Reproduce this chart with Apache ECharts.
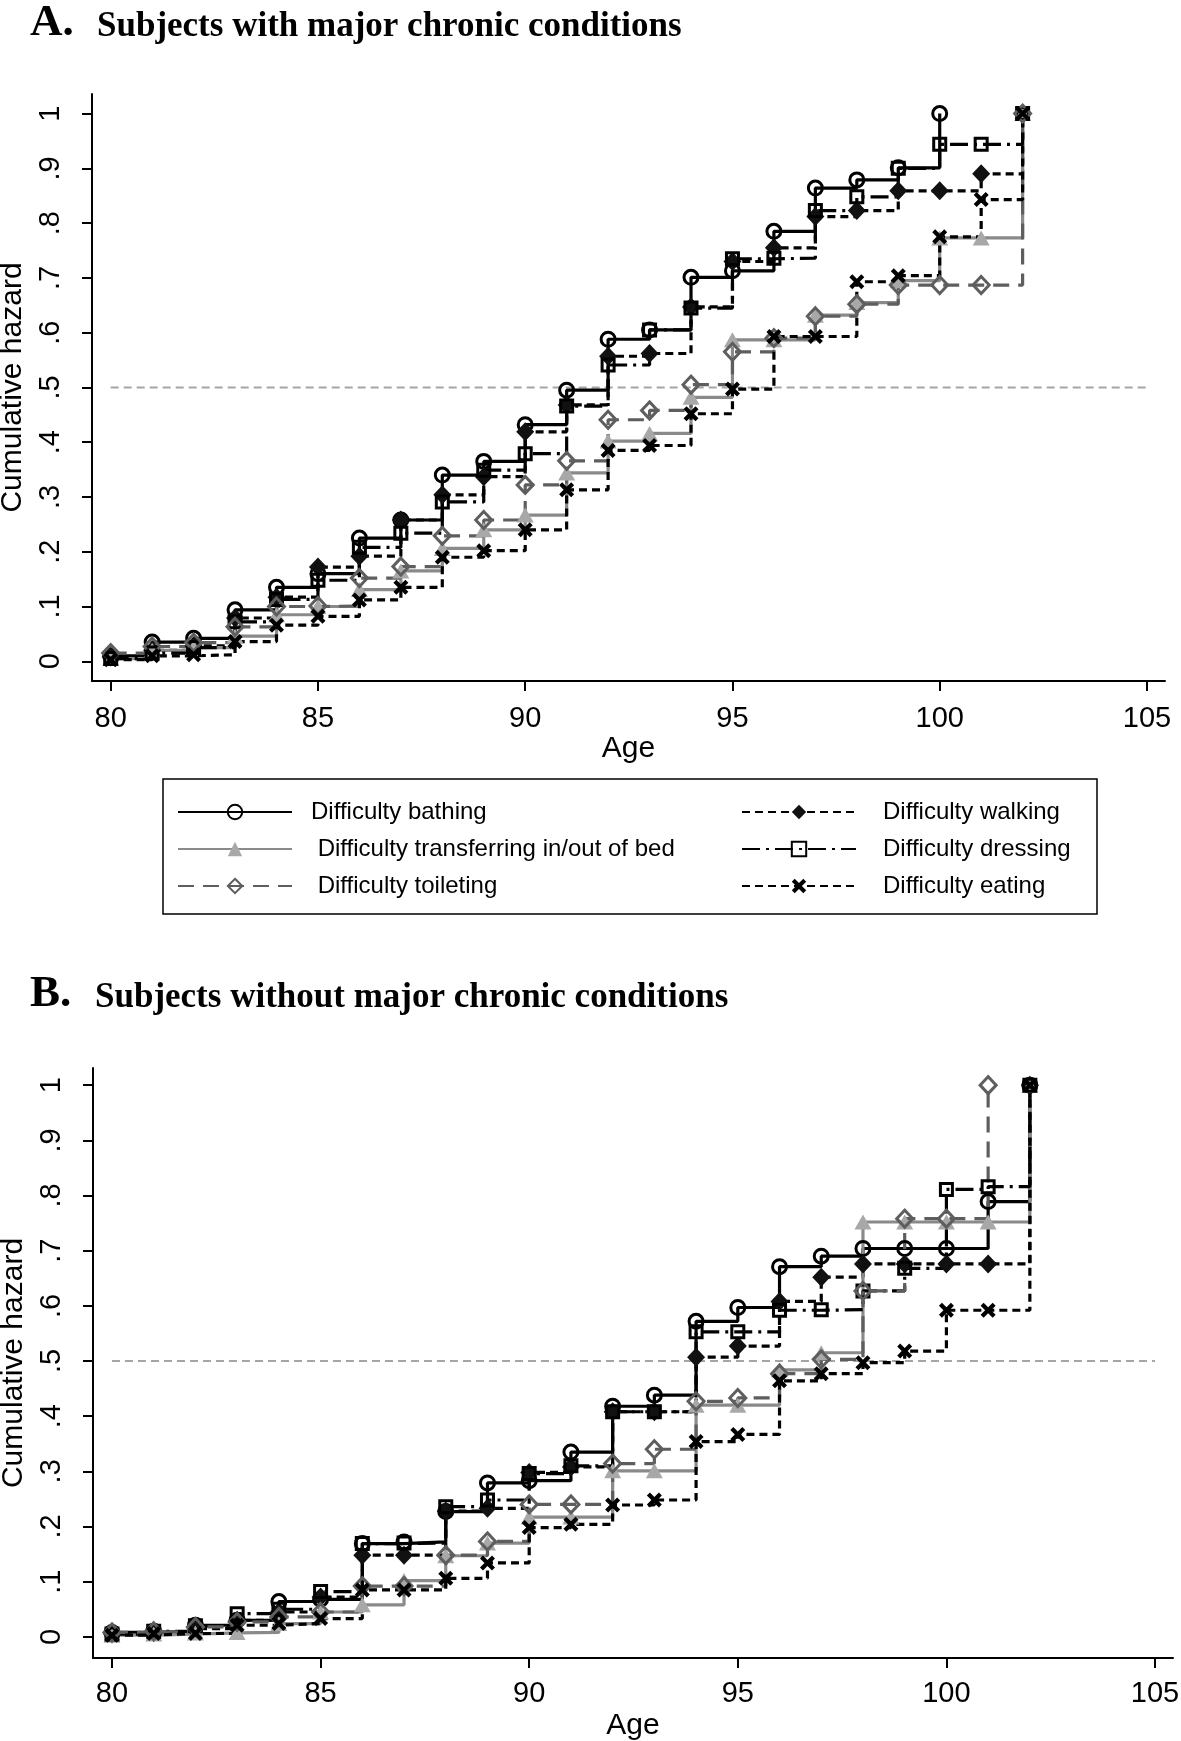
<!DOCTYPE html>
<html>
<head>
<meta charset="utf-8">
<script src="https://cdn.jsdelivr.net/npm/echarts@6/dist/echarts.min.js"></script>
<style>
html,body{margin:0;padding:0;background:#fff;}
#chart{width:1181px;height:1741px;}
</style>
</head>
<body>
<div id="chart"></div>
<script>
// ---------- DATA ----------
const ages = [80,81,82,83,84,85,86,87,88,89,90,91,92,93,94,95,96,97,98,99,100,101,102];
const xTicks = [80,85,90,95,100,105];
const yTicks = [0,0.1,0.2,0.3,0.4,0.5,0.6,0.7,0.8,0.9,1];
const yTickLabels = ['0','.1','.2','.3','.4','.5','.6','.7','.8','.9','1'];
const refAges = [80,105];
const refValue = 0.5;

const titleA = 'Subjects with major chronic conditions';
const titleB = 'Subjects without major chronic conditions';
const names = {
  bathing: 'Difficulty bathing',
  transfer: 'Difficulty transferring in/out of bed',
  toileting: 'Difficulty toileting',
  walking: 'Difficulty walking',
  dressing: 'Difficulty dressing',
  eating: 'Difficulty eating'
};

// Panel A: subjects with major chronic conditions (ages 80..102; bathing 80..100)
const bathingA   = [0.010,0.035,0.042,0.094,0.135,0.160,0.225,0.258,0.340,0.365,0.432,0.495,0.588,0.605,0.701,0.713,0.785,0.864,0.879,0.901,1.000];
const walkingA   = [0.008,0.020,0.028,0.079,0.117,0.172,0.192,0.258,0.304,0.337,0.419,0.468,0.557,0.562,0.647,0.730,0.755,0.812,0.823,0.859,0.859,0.890,1.000];
const transferA  = [0.005,0.020,0.025,0.046,0.085,0.100,0.131,0.165,0.206,0.240,0.267,0.344,0.402,0.416,0.482,0.587,0.587,0.632,0.655,0.695,0.773,0.773,1.000];
const dressingA  = [0.005,0.015,0.025,0.072,0.113,0.148,0.208,0.234,0.291,0.349,0.379,0.466,0.541,0.605,0.645,0.735,0.736,0.823,0.848,0.900,0.944,0.944,1.000];
const toiletingA = [0.015,0.027,0.034,0.063,0.100,0.101,0.152,0.173,0.229,0.258,0.322,0.366,0.441,0.458,0.505,0.565,0.590,0.630,0.652,0.687,0.687,0.687,1.000];
const eatingA    = [0.003,0.010,0.012,0.036,0.066,0.082,0.112,0.135,0.190,0.202,0.240,0.313,0.385,0.394,0.452,0.497,0.593,0.593,0.693,0.704,0.775,0.843,1.000];

// Panel B: subjects without major chronic conditions (ages 80..102; toileting 80..101)
const bathingB   = [0.008,0.010,0.021,0.030,0.064,0.068,0.169,0.172,0.227,0.279,0.283,0.335,0.418,0.438,0.572,0.597,0.671,0.690,0.704,0.704,0.704,0.789,1.000];
const walkingB   = [0.005,0.008,0.015,0.030,0.045,0.072,0.148,0.148,0.228,0.233,0.298,0.308,0.408,0.408,0.507,0.527,0.608,0.652,0.676,0.676,0.676,0.676,1.000];
const transferB  = [0.003,0.005,0.007,0.008,0.024,0.045,0.058,0.102,0.147,0.170,0.217,0.217,0.301,0.301,0.420,0.420,0.484,0.515,0.752,0.752,0.752,0.752,1.000];
const dressingB  = [0.005,0.010,0.020,0.042,0.050,0.082,0.169,0.170,0.236,0.248,0.296,0.310,0.408,0.408,0.553,0.553,0.592,0.593,0.627,0.668,0.811,0.816,1.000];
const toiletingB = [0.008,0.010,0.018,0.027,0.036,0.045,0.092,0.092,0.148,0.173,0.240,0.240,0.314,0.340,0.427,0.433,0.477,0.503,0.627,0.758,0.758,1.000];
const eatingB    = [0.003,0.006,0.006,0.021,0.024,0.033,0.085,0.085,0.106,0.134,0.198,0.204,0.239,0.248,0.354,0.367,0.464,0.477,0.497,0.518,0.592,0.592,1.000];

// ---------- STYLES ----------
const SANS = '"Liberation Sans", Arial, sans-serif';
const SERIF = '"Liberation Serif", "Times New Roman", serif';
const XPATH = 'path://M2,0 L5,3 L8,0 L10,2 L7,5 L10,8 L8,10 L5,7 L2,10 L0,8 L3,5 L0,2 Z';
const LW = 3.2;
const styles = {
  bathing:   {line:{color:'#000', width:LW, type:'solid'}, symbol:'circle', size:14, item:{color:'rgba(0,0,0,0)', borderColor:'#000', borderWidth:3}},
  walking:   {line:{color:'#000', width:LW, type:[8,5]}, symbol:'diamond', size:[18,19], item:{color:'#111', borderWidth:0}},
  transfer:  {line:{color:'#8a8a8a', width:LW, type:'solid'}, symbol:'triangle', size:[17,15], item:{color:'#a8a8a8', borderWidth:0}},
  dressing:  {line:{color:'#000', width:LW, type:[18,6,3,6]}, symbol:'rect', size:12, item:{color:'rgba(0,0,0,0)', borderColor:'#000', borderWidth:3}},
  toileting: {line:{color:'#5e5e5e', width:LW, type:[16,9]}, symbol:'diamond', size:[16,17], item:{color:'rgba(0,0,0,0)', borderColor:'#5e5e5e', borderWidth:3}},
  eating:    {line:{color:'#000', width:LW, type:[8,5]}, symbol:XPATH, size:15, item:{color:'#000', borderWidth:0}}
};
const order = ['bathing','walking','transfer','dressing','toileting','eating'];
const panelData = [
  {bathing:bathingA, walking:walkingA, transfer:transferA, dressing:dressingA, toileting:toiletingA, eating:eatingA},
  {bathing:bathingB, walking:walkingB, transfer:transferB, dressing:dressingB, toileting:toiletingB, eating:eatingB}
];

function zip(xs, ys){ return ys.map((v,i)=>[xs[i], v]); }

const series = [];
panelData.forEach((pd, p) => {
  series.push({
    type:'line', name:'ref'+p, xAxisIndex:p, yAxisIndex:p, silent:true,
    data: refAges.map(a=>[a, refValue]), symbol:'none', z:1,
    lineStyle:{color:'#a5a5a5', width:2, type:[8,5]}
  });
  order.forEach(k => {
    const s = styles[k];
    series.push({
      type:'line', name:names[k], xAxisIndex:p, yAxisIndex:p,
      step:'end', data: zip(ages, pd[k]),
      symbol:s.symbol, symbolSize:s.size, showSymbol:true, showAllSymbol:true,
      lineStyle:s.line, itemStyle:s.item, z:2, emphasis:{disabled:true}
    });
  });
});

function xAxis(idx, min, max, margin){
  return {
    type:'value', gridIndex:idx, min:min, max:max,
    name:'Age', nameLocation:'middle', nameGap:53,
    nameTextStyle:{fontSize:30, color:'#000', fontFamily:SANS},
    axisLine:{onZero:false, lineStyle:{color:'#000', width:2}},
    axisTick:{show:true, length:10, customValues:xTicks, lineStyle:{color:'#000', width:2}},
    axisLabel:{customValues:xTicks, fontSize:29, color:'#000', fontFamily:SANS, margin:margin},
    splitLine:{show:false}
  };
}
function yAxis(idx, min, max){
  return {
    type:'value', gridIndex:idx, min:min, max:max,
    name:'Cumulative hazard', nameLocation:'middle', nameGap:62, nameRotate:90,
    nameTextStyle:{fontSize:30, color:'#000', fontFamily:SANS},
    axisLine:{show:true, onZero:false, lineStyle:{color:'#000', width:2}},
    axisTick:{show:true, length:10, customValues:yTicks, lineStyle:{color:'#000', width:2}},
    axisLabel:{customValues:yTicks, rotate:90, fontSize:29, color:'#000', fontFamily:SANS, margin:27,
      formatter:(v)=>{ let best=0, d=1e9; yTicks.forEach((t,i)=>{ if(Math.abs(t-v)<d){d=Math.abs(t-v);best=i;} }); return yTickLabels[best]; }},
    splitLine:{show:false}
  };
}

const legendCommon = {
  orient:'vertical', selectedMode:false, itemWidth:114, itemHeight:18, itemGap:13,
  textStyle:{fontSize:24, color:'#000', fontFamily:SANS, lineHeight:24}
};

const option = {
  animation:false,
  backgroundColor:'#fff',
  grid:[
    {left:92, top:94, width:1073, height:587, outerBoundsMode:'none', containLabel:false},
    {left:93, top:1068, width:1080, height:590, outerBoundsMode:'none', containLabel:false}
  ],
  xAxis:[xAxis(0, 79.549, 105.435, 23), xAxis(1, 79.545, 105.431, 21)],
  yAxis:[yAxis(0, -0.036, 1.0358), yAxis(1, -0.0384, 1.0312)],
  legend:[
    Object.assign({}, legendCommon, {left:172, top:795,
      data:[names.bathing, names.transfer, names.toileting],
      formatter:(n)=> (n===names.bathing ? n : ' '+n),
      textStyle:Object.assign({}, legendCommon.textStyle, {padding:[0,0,0,14]})}),
    Object.assign({}, legendCommon, {left:736, top:795,
      data:[names.walking, names.dressing, names.eating],
      textStyle:Object.assign({}, legendCommon.textStyle, {padding:[0,0,0,22]})})
  ],
  graphic:[
    {type:'rect', shape:{x:163, y:779, width:934, height:135}, style:{fill:'none', stroke:'#000', lineWidth:1.5}, silent:true},
    {type:'text', style:{x:30, y:23, text:'A.', font:'bold 45px '+SERIF, fill:'#000', verticalAlign:'middle'}},
    {type:'text', style:{x:97, y:26.5, text:titleA, font:'bold 35px '+SERIF, fill:'#000', verticalAlign:'middle'}},
    {type:'text', style:{x:30, y:994.5, text:'B.', font:'bold 45px '+SERIF, fill:'#000', verticalAlign:'middle'}},
    {type:'text', style:{x:95, y:998, text:titleB, font:'bold 35px '+SERIF, fill:'#000', verticalAlign:'middle'}}
  ],
  series: series
};

const chart = echarts.init(document.getElementById('chart'), null, {renderer:'canvas'});
chart.setOption(option);
</script>
</body>
</html>
